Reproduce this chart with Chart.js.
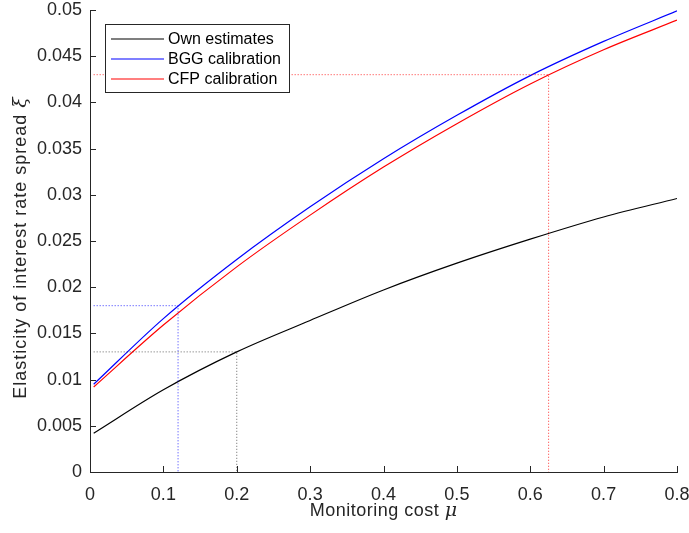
<!DOCTYPE html>
<html>
<head>
<meta charset="utf-8">
<script src="https://cdn.jsdelivr.net/npm/chart.js@4/dist/chart.umd.min.js"></script>
<style>
  body { margin: 0; background: #fff; }
  #wrap { width: 689px; height: 533px; }
</style>
</head>
<body>
<div id="wrap"><canvas id="elasticity" width="689" height="533"></canvas></div>
<script>
// monitoring cost grid and the three curves
const mu = [0.005, 0.1, 0.2, 0.3, 0.4, 0.5, 0.6, 0.7, 0.8];
const ownEstimates = [0.0042, 0.0089, 0.0130, 0.0164, 0.0197, 0.0226, 0.0252, 0.0276, 0.0296];
const bggCalibration = [0.0095, 0.0166, 0.0230, 0.0287, 0.0339, 0.0386, 0.0429, 0.0466, 0.0499];
const cfpCalibration = [0.0092, 0.0159, 0.0222, 0.0278, 0.0330, 0.0377, 0.0420, 0.0457, 0.0489];

// dotted guide lines (x, y)
const ownGuideX = [0.005, 0.2, 0.2];
const ownGuideY = [0.013, 0.013, 0];
const bggGuideX = [0.005, 0.12, 0.12];
const bggGuideY = [0.018, 0.018, 0];
const cfpGuideX = [0.005, 0.625, 0.625];
const cfpGuideY = [0.043, 0.043, 0];

const xTicks = [0, 0.1, 0.2, 0.3, 0.4, 0.5, 0.6, 0.7, 0.8];
const yTicks = [0, 0.005, 0.01, 0.015, 0.02, 0.025, 0.03, 0.035, 0.04, 0.045, 0.05];

const FONT = '"Liberation Sans", Arial, sans-serif';
const AXIS = '#262626';

function zip(xs, ys) {
  return xs.map((x, i) => ({ x: x, y: ys[i] }));
}

function curve(label, ys, color) {
  return {
    label: label,
    data: zip(mu, ys),
    borderColor: color,
    borderWidth: 1.2,
    pointRadius: 0,
    cubicInterpolationMode: "monotone",
    inLegend: true,
  };
}

function guide(xs, ys, color) {
  return {
    data: zip(xs, ys),
    borderColor: color,
    borderWidth: 1,
    borderDash: [1, 2],
    pointRadius: 0,
    tension: 0,
    inLegend: false,
  };
}

// inward tick marks, like the original figure
const innerTicks = {
  id: "innerTicks",
  afterDatasetsDraw(chart) {
    const { ctx, chartArea: a, scales } = chart;
    ctx.save();
    ctx.strokeStyle = AXIS;
    ctx.lineWidth = 1;
    ctx.beginPath();
    xTicks.forEach((v) => {
      const px = Math.round(scales.x.getPixelForValue(v)) + 0.5;
      ctx.moveTo(px, a.bottom);
      ctx.lineTo(px, a.bottom - 6);
    });
    yTicks.forEach((v) => {
      const py = Math.round(scales.y.getPixelForValue(v)) + 0.5;
      ctx.moveTo(a.left, py);
      ctx.lineTo(a.left + 6, py);
    });
    ctx.stroke();
    ctx.restore();
  },
};

// boxed legend in the upper left corner of the axes
const boxLegend = {
  id: "boxLegend",
  afterDatasetsDraw(chart) {
    const { ctx, chartArea: a } = chart;
    const items = chart.data.datasets.filter((d) => d.inLegend);
    const left = a.left + 15;
    const top = a.top + 14;
    const w = 184;
    const h = 68;
    ctx.save();
    ctx.fillStyle = "#fff";
    ctx.fillRect(left, top, w, h);
    ctx.strokeStyle = AXIS;
    ctx.lineWidth = 1;
    ctx.strokeRect(left + 0.5, top + 0.5, w, h);
    ctx.font = "16px " + FONT;
    ctx.textBaseline = "middle";
    items.forEach((d, i) => {
      const y = top + 15 + i * 20;
      ctx.strokeStyle = d.borderColor;
      ctx.lineWidth = 1.2;
      ctx.beginPath();
      ctx.moveTo(left + 6, y);
      ctx.lineTo(left + 59, y);
      ctx.stroke();
      ctx.fillStyle = "#000";
      ctx.fillText(d.label, left + 63, y + 1);
    });
    ctx.restore();
  },
};

// axis titles with italic greek symbols
const axisTitles = {
  id: "axisTitles",
  afterDraw(chart) {
    const { ctx, chartArea: a } = chart;
    const greek = 'italic 19px "DejaVu Serif", serif';
    ctx.save();
    ctx.fillStyle = AXIS;
    ctx.textBaseline = "alphabetic";
    ctx.textAlign = "left";

    const xText = "Monitoring cost ";
    ctx.font = "18px " + FONT;
    ctx.letterSpacing = "0.5px";
    const xw = ctx.measureText(xText).width;
    ctx.letterSpacing = "0px";
    ctx.font = greek;
    const mw = ctx.measureText("\u03bc").width;
    let x0 = (a.left + a.right) / 2 - (xw + mw) / 2;
    ctx.font = "18px " + FONT;
    ctx.letterSpacing = "0.5px";
    ctx.fillText(xText, x0, a.bottom + 44);
    ctx.letterSpacing = "0px";
    ctx.font = greek;
    ctx.fillText("\u03bc", x0 + xw, a.bottom + 44);

    const yText = "Elasticity of interest rate spread ";
    ctx.font = "18px " + FONT;
    ctx.letterSpacing = "1px";
    const yw = ctx.measureText(yText).width;
    ctx.letterSpacing = "0px";
    ctx.font = greek;
    const xiw = ctx.measureText("\u03be").width;
    const yc = (a.top + a.bottom) / 2 + 7;
    ctx.translate(a.left - 64, yc + (yw + xiw) / 2);
    ctx.rotate(-Math.PI / 2);
    ctx.font = "18px " + FONT;
    ctx.letterSpacing = "1px";
    ctx.fillText(yText, 0, 0);
    ctx.letterSpacing = "0px";
    ctx.font = greek;
    ctx.fillText("\u03be", yw, 0);
    ctx.restore();
  },
};

new Chart(document.getElementById("elasticity"), {
  type: "line",
  data: {
    datasets: [
      guide(ownGuideX, ownGuideY, "rgba(0,0,0,0.6)"),
      guide(bggGuideX, bggGuideY, "rgba(0,0,255,0.8)"),
      guide(cfpGuideX, cfpGuideY, "rgba(255,0,0,0.8)"),
      curve("Own estimates", ownEstimates, "#000000"),
      curve("BGG calibration", bggCalibration, "#0000ff"),
      curve("CFP calibration", cfpCalibration, "#ff0000"),
    ],
  },
  options: {
    responsive: false,
    animation: false,
    layout: { padding: { left: 0, right: 12, top: 10, bottom: 0 } },
    plugins: {
      legend: { display: false },
      tooltip: { enabled: false },
    },
    scales: {
      x: {
        type: "linear",
        min: 0,
        max: 0.8,
        afterFit: (s) => {
          s.height = 61;
          s.paddingLeft = 0;
          s.paddingRight = 0;
        },
        afterBuildTicks: (s) => { s.ticks = xTicks.map((v) => ({ value: v })); },
        border: { display: true, color: AXIS, width: 1 },
        grid: { display: false, drawTicks: false },
        ticks: {
          color: AXIS,
          font: { family: FONT, size: 18 },
          padding: 12,
          maxRotation: 0,
          callback: (v) => String(+v.toFixed(3)),
        },
      },
      y: {
        type: "linear",
        min: 0,
        max: 0.05,
        afterFit: (s) => {
          s.width = 90;
          s.paddingTop = 0;
          s.paddingBottom = 0;
        },
        afterBuildTicks: (s) => { s.ticks = yTicks.map((v) => ({ value: v })); },
        border: { display: true, color: AXIS, width: 1 },
        grid: { display: false, drawTicks: false },
        ticks: {
          color: AXIS,
          font: { family: FONT, size: 18 },
          padding: 8,
          callback: (v) => String(+v.toFixed(3)),
        },
      },
    },
  },
  plugins: [innerTicks, boxLegend, axisTitles],
});
</script>
</body>
</html>
